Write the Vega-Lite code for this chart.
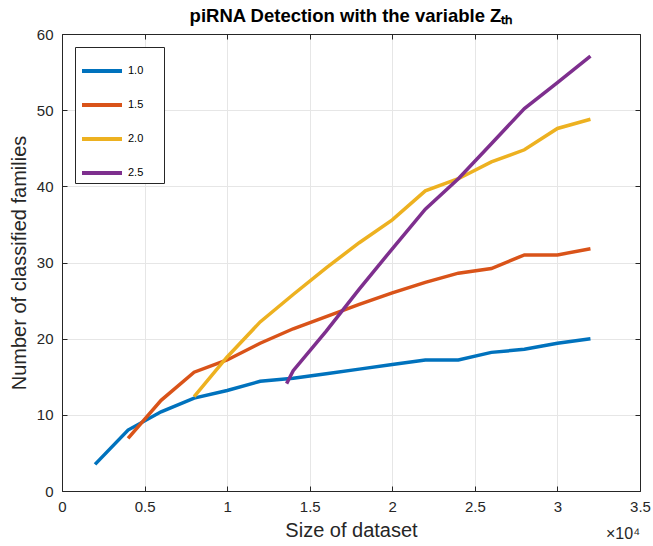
{
  "$schema": "https://vega.github.io/schema/vega-lite/v6.json",
  "width": 578,
  "height": 457,
  "autosize": "none",
  "padding": {"left": 62, "top": 34, "right": 13, "bottom": 55},
  "background": "white",
  "title": {
    "text": "piRNA Detection with the variable Zₜₕ",
    "font": "Liberation Sans",
    "fontSize": 18.5,
    "fontWeight": "bold",
    "color": "#000000",
    "anchor": "middle",
    "offset": 2
  },
  "config": {
    "view": {"stroke": null},
    "font": "Liberation Sans"
  },
  "data": {
    "values": [
      {"size": 2000, "families": 3.5, "zth": "1.0"},
      {"size": 4000, "families": 8.0, "zth": "1.0"},
      {"size": 6000, "families": 10.4, "zth": "1.0"},
      {"size": 8000, "families": 12.2, "zth": "1.0"},
      {"size": 10000, "families": 13.2, "zth": "1.0"},
      {"size": 12000, "families": 14.4, "zth": "1.0"},
      {"size": 14000, "families": 14.8, "zth": "1.0"},
      {"size": 16000, "families": 15.4, "zth": "1.0"},
      {"size": 18000, "families": 16.0, "zth": "1.0"},
      {"size": 20000, "families": 16.6, "zth": "1.0"},
      {"size": 22000, "families": 17.2, "zth": "1.0"},
      {"size": 24000, "families": 17.2, "zth": "1.0"},
      {"size": 26000, "families": 18.2, "zth": "1.0"},
      {"size": 28000, "families": 18.6, "zth": "1.0"},
      {"size": 30000, "families": 19.4, "zth": "1.0"},
      {"size": 32000, "families": 20.0, "zth": "1.0"},

      {"size": 4000, "families": 6.9, "zth": "1.5"},
      {"size": 6000, "families": 11.9, "zth": "1.5"},
      {"size": 8000, "families": 15.6, "zth": "1.5"},
      {"size": 10000, "families": 17.2, "zth": "1.5"},
      {"size": 12000, "families": 19.4, "zth": "1.5"},
      {"size": 14000, "families": 21.3, "zth": "1.5"},
      {"size": 16000, "families": 22.9, "zth": "1.5"},
      {"size": 18000, "families": 24.5, "zth": "1.5"},
      {"size": 20000, "families": 26.0, "zth": "1.5"},
      {"size": 22000, "families": 27.4, "zth": "1.5"},
      {"size": 24000, "families": 28.6, "zth": "1.5"},
      {"size": 26000, "families": 29.2, "zth": "1.5"},
      {"size": 28000, "families": 31.0, "zth": "1.5"},
      {"size": 30000, "families": 31.0, "zth": "1.5"},
      {"size": 32000, "families": 31.8, "zth": "1.5"},

      {"size": 8000, "families": 12.4, "zth": "2.0"},
      {"size": 10000, "families": 17.6, "zth": "2.0"},
      {"size": 12000, "families": 22.2, "zth": "2.0"},
      {"size": 14000, "families": 25.8, "zth": "2.0"},
      {"size": 16000, "families": 29.3, "zth": "2.0"},
      {"size": 18000, "families": 32.6, "zth": "2.0"},
      {"size": 20000, "families": 35.6, "zth": "2.0"},
      {"size": 22000, "families": 39.4, "zth": "2.0"},
      {"size": 24000, "families": 41.0, "zth": "2.0"},
      {"size": 26000, "families": 43.2, "zth": "2.0"},
      {"size": 28000, "families": 44.8, "zth": "2.0"},
      {"size": 30000, "families": 47.6, "zth": "2.0"},
      {"size": 32000, "families": 48.8, "zth": "2.0"},

      {"size": 13600, "families": 14.1, "zth": "2.5"},
      {"size": 14000, "families": 15.8, "zth": "2.5"},
      {"size": 16000, "families": 21.0, "zth": "2.5"},
      {"size": 18000, "families": 26.5, "zth": "2.5"},
      {"size": 20000, "families": 31.8, "zth": "2.5"},
      {"size": 22000, "families": 37.0, "zth": "2.5"},
      {"size": 24000, "families": 41.0, "zth": "2.5"},
      {"size": 26000, "families": 45.6, "zth": "2.5"},
      {"size": 28000, "families": 50.2, "zth": "2.5"},
      {"size": 30000, "families": 53.6, "zth": "2.5"},
      {"size": 32000, "families": 57.1, "zth": "2.5"}
    ]
  },
  "layer": [
    {
      "mark": {"type": "line", "strokeWidth": 3.5},
      "encoding": {
        "x": {
          "field": "size",
          "type": "quantitative",
          "scale": {"domain": [0, 35000], "nice": false, "zero": false},
          "axis": {
            "title": "Size of dataset",
            "values": [0, 5000, 10000, 15000, 20000, 25000, 30000, 35000],
            "labelExpr": "format(datum.value / 10000, '~g')",
            "grid": true,
            "gridColor": "#E6E6E6",
            "domainColor": "#262626",
            "tickColor": "#262626",
            "tickSize": -5,
            "labelPadding": 13,
            "labelFontSize": 15,
            "labelColor": "#262626",
            "labelFlush": false,
            "titleFontSize": 20,
            "titleFontWeight": "normal",
            "titleColor": "#262626",
            "titlePadding": 6
          }
        },
        "y": {
          "field": "families",
          "type": "quantitative",
          "scale": {"domain": [0, 60], "nice": false},
          "axis": {
            "title": "Number of classified families",
            "values": [0, 10, 20, 30, 40, 50, 60],
            "grid": true,
            "gridColor": "#E6E6E6",
            "domainColor": "#262626",
            "tickColor": "#262626",
            "tickSize": -5,
            "labelPadding": 14,
            "labelFontSize": 15,
            "labelColor": "#262626",
            "labelFlush": false,
            "titleFontSize": 20,
            "titleFontWeight": "normal",
            "titleColor": "#262626",
            "titlePadding": 7
          }
        },
        "color": {
          "field": "zth",
          "type": "nominal",
          "scale": {
            "domain": ["1.0", "1.5", "2.0", "2.5"],
            "range": ["#0072BD", "#D95319", "#EDB120", "#7E2F8E"]
          },
          "legend": {
            "title": null,
            "orient": "top-left",
            "offset": 13,
            "symbolType": "stroke",
            "symbolSize": 1600,
            "symbolStrokeWidth": 4,
            "symbolOffset": 3,
            "labelFontSize": 11,
            "labelColor": "#000000",
            "labelOffset": 4,
            "labelExpr": "datum.label + '      \u200b'",
            "rowPadding": 4,
            "padding": 2,
            "strokeColor": "#262626",
            "fillColor": "#FFFFFF",
            "cornerRadius": 0
          }
        }
      }
    },
    {
      "data": {"values": [{"note": "×10⁴"}]},
      "mark": {
        "type": "text",
        "align": "right",
        "baseline": "alphabetic",
        "dy": 48,
        "fontSize": 16,
        "color": "#262626"
      },
      "encoding": {
        "x": {
          "datum": 35000,
          "type": "quantitative",
          "axis": {
            "orient": "top",
            "title": null,
            "labels": false,
            "grid": false,
            "values": [0, 5000, 10000, 15000, 20000, 25000, 30000, 35000],
            "domainColor": "#262626",
            "tickColor": "#262626",
            "tickSize": -5
          }
        },
        "y": {
          "datum": 0,
          "type": "quantitative",
          "axis": {
            "orient": "right",
            "title": null,
            "labels": false,
            "grid": false,
            "values": [0, 10, 20, 30, 40, 50, 60],
            "domainColor": "#262626",
            "tickColor": "#262626",
            "tickSize": -5
          }
        },
        "text": {"field": "note"}
      }
    }
  ],
  "resolve": {"axis": {"x": "independent", "y": "independent"}}
}
